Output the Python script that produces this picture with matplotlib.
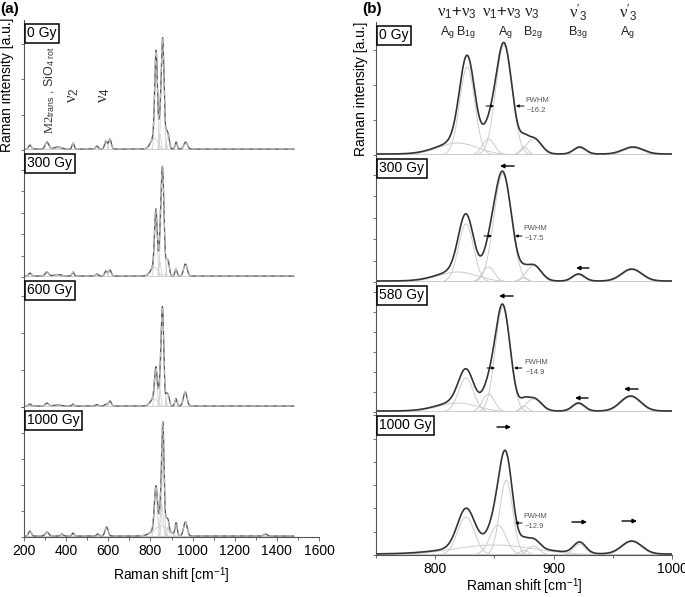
import numpy as np
import matplotlib
matplotlib.use('Agg')
import matplotlib.pyplot as plt
from matplotlib.ticker import MultipleLocator

plt.rcParams['font.family'] = 'Liberation Sans'
plt.rcParams['mathtext.fontset'] = 'custom'
plt.rcParams['mathtext.rm'] = 'Liberation Serif'
plt.rcParams['mathtext.it'] = 'Liberation Serif:italic'
plt.rcParams['mathtext.sf'] = 'Liberation Sans'

# fitted Raman bands: (centre [cm-1], FWHM [cm-1], height [a.u.])
bands_0gy = [(819, 40, 12), (827, 15, 88), (845, 12, 16), (858, 16.2, 110),
             (875, 8, 8), (883, 15, 16), (922, 12, 7), (967, 20, 7)]
bands_300gy = [(819, 40, 10), (826, 15, 58), (845, 12, 15), (857, 17.5, 108),
               (875, 8, 4), (883, 15, 16), (921, 12, 7), (966, 20, 12)]
bands_580gy = [(819, 40, 9), (826, 15, 34), (845, 12, 18), (857, 14.9, 105),
               (875, 8, 6), (883, 15, 13), (921, 12, 8), (965, 20, 15)]
bands_1000gy = [(826, 17, 38), (850, 80, 10), (853, 16, 30), (860, 12.9, 75),
                (875, 8, 5), (883, 12, 9), (922, 12, 11), (966, 20, 13)]

# low-wavenumber bands, panel (a)
low_0gy = [(228, 15, 4), (309, 20, 7), (360, 40, 2), (433, 12, 6),
           (546, 15, 3), (589, 15, 8), (608, 15, 10)]
low_300gy = [(228, 15, 3), (309, 20, 4), (360, 40, 1.5), (433, 12, 4),
             (546, 15, 2), (589, 15, 5), (608, 15, 6)]
low_600gy = [(228, 15, 2), (309, 20, 3), (360, 40, 1), (433, 12, 2),
             (546, 15, 1.5), (589, 15, 2), (608, 15, 5)]
low_1000gy = [(228, 15, 5), (309, 20, 4), (380, 15, 2), (433, 12, 3),
              (550, 15, 2), (592, 18, 9), (1345, 20, 2)]

doses_a = ['0 Gy', '300 Gy', '600 Gy', '1000 Gy']
doses_b = ['0 Gy', '300 Gy', '580 Gy', '1000 Gy']
scale_a = [1.0, 1.0, 0.93, 1.1]
baseline = 1.0

high_sets = [bands_0gy, bands_300gy, bands_580gy, bands_1000gy]
low_sets = [low_0gy, low_300gy, low_600gy, low_1000gy]


def gauss(x, c, w, h):
    return h * np.exp(-4 * np.log(2) * ((x - c) / w) ** 2)


W, HF = 685, 597
fig = plt.figure(figsize=(6.85, 5.97), dpi=100)


def make_ax(left, width, top, bottom):
    ax = fig.add_axes([left / W, 1 - bottom / HF, width / W, (bottom - top) / HF])
    ax.set_ylim(0, bottom - top)
    for s in ['top', 'right']:
        ax.spines[s].set_visible(False)
    ax.spines['left'].set_color('#555555')
    ax.spines['left'].set_linewidth(0.8)
    ax.tick_params(axis='y', length=2.5, width=0.6, color='#555555', labelleft=False)
    return ax


def box_label(ax, text):
    ax.annotate(text, xy=(0, 1), xycoords='axes fraction', xytext=(3, -6),
                textcoords='offset pixels', ha='left', va='top', fontsize=10,
                bbox=dict(boxstyle='square,pad=0.18', fc='white', ec='black', lw=1.1),
                zorder=10)


def finish_x(ax, last):
    if last:
        ax.spines['bottom'].set_color('#555555')
        ax.spines['bottom'].set_linewidth(0.8)
        ax.tick_params(axis='x', length=3, width=0.6, color='#555555', labelsize=10, pad=2)
        ax.set_xlabel('Raman shift [cm$^{\\mathsf{-1}}$]', fontsize=10)
    else:
        ax.spines['bottom'].set_visible(False)
        ax.tick_params(axis='x', bottom=False, labelbottom=False)


# ---------------- panel (a) ----------------
rows_a = [(20, 150), (150, 277), (277, 407), (407, 537)]
steps_a = [35.5, 21.5, 37, 26]
xa = np.linspace(200, 1480, 5000)
axes_a = []
for i, (top, bottom) in enumerate(rows_a):
    ax = make_ax(24, 295, top, bottom)
    ax.set_xlim(200, 1600)
    ax.yaxis.set_major_locator(MultipleLocator(steps_a[i]))
    comps = [(c, w, h * scale_a[i]) for c, w, h in high_sets[i]] + low_sets[i]
    total = np.full_like(xa, baseline)
    for c, w, h in comps:
        y = gauss(xa, c, w, h)
        total += y
        ax.plot(xa, y, color='#d0d0d0', lw=0.6)
    ax.plot(xa, total, color='#555555', lw=0.9)
    ax.plot(xa, total, color='#bbbbbb', lw=0.9, ls=(0, (4, 3)))
    ax.xaxis.set_major_locator(MultipleLocator(200))
    ax.xaxis.set_minor_locator(MultipleLocator(100))
    ax.tick_params(axis='x', which='minor', length=2, color='#555555')
    finish_x(ax, i == 3)
    box_label(ax, doses_a[i])
    axes_a.append(ax)

axes_a[0].set_ylabel('Raman intensity [a.u.]', fontsize=10)
axes_a[0].yaxis.set_label_coords(-0.034, 0.5)
axes_a[3].xaxis.set_label_coords(0.5, -0.22)

axes_a[0].text(323, 60, r'$\mathrm{M2}_{\mathsf{trans}}$ , SiO$_{\mathsf{4\ rot}}$',
               rotation=90, ha='center', va='center', fontsize=9, color='#333333')
axes_a[0].text(433, 55, r'$\mathrm{\nu}_{\mathsf{2}}$', rotation=90, ha='center', va='center',
               fontsize=12, color='#333333')
axes_a[0].text(584, 55, r'$\mathrm{\nu}_{\mathsf{4}}$', rotation=90, ha='center', va='center',
               fontsize=12, color='#333333')

# ---------------- panel (b) ----------------
rows_b = [(22, 155), (155, 282), (282, 412), (412, 555)]
steps_b = [35, 21.5, 20, 23.3]
xb = np.linspace(750, 1000, 1500)
axes_b = []
for i, (top, bottom) in enumerate(rows_b):
    ax = make_ax(376, 296, top, bottom)
    ax.set_xlim(750, 1000)
    ax.yaxis.set_major_locator(MultipleLocator(steps_b[i]))
    ax.axhline(0.3, color='#c8c8c8', lw=0.8)
    total = np.full_like(xb, baseline)
    for c, w, h in high_sets[i]:
        y = gauss(xb, c, w, h)
        total += y
        ax.plot(xb, y, color='#cccccc', lw=0.7)
    ax.plot(xb, total, color='#333333', lw=1.2)
    ax.xaxis.set_major_locator(MultipleLocator(100))
    ax.xaxis.set_minor_locator(MultipleLocator(50))
    ax.tick_params(axis='x', which='minor', length=2, color='#555555')
    finish_x(ax, i == 3)
    box_label(ax, doses_b[i])
    axes_b.append(ax)

axes_b[0].set_ylabel('Raman intensity [a.u.]', fontsize=10)
axes_b[0].yaxis.set_label_coords(-0.027, 0.5)
axes_b[3].xaxis.set_label_coords(0.5, -0.15)

# mode assignments above panel (b)
nu13 = r'$\mathrm{\nu}_{\mathsf{1}}$+$\mathrm{\nu}_{\mathsf{3}}$'
modes_top = [(818.4, nu13), (856.4, nu13), (881.8, r'$\mathrm{\nu}_{\mathsf{3}}$'),
             (920.6, r"$\mathrm{\nu}'_{\mathsf{3}}$"), (962.8, r"$\mathrm{\nu}'_{\mathsf{3}}$")]
modes_sym = [(810, r'A$_{\mathsf{g}}$'), (826, r'B$_{\mathsf{1g}}$'), (859, r'A$_{\mathsf{g}}$'),
             (882.6, r'B$_{\mathsf{2g}}$'), (920.6, r'B$_{\mathsf{3g}}$'), (962, r'A$_{\mathsf{g}}$')]
for x, t in modes_top:
    axes_b[0].text(x, 142, t, ha='center', va='center', fontsize=12, color='#222222')
for x, t in modes_sym:
    axes_b[0].text(x, 122, t, ha='center', va='center', fontsize=9, color='#222222')


def arrow(ax, tail, head, y, small=False):
    ax.annotate('', xy=(head, y), xytext=(tail, y),
                arrowprops=dict(arrowstyle='-|>', color='black',
                                lw=0.7 if small else 1.0,
                                mutation_scale=4 if small else 6,
                                shrinkA=0, shrinkB=0))


def fwhm(ax, x, y, value):
    ax.text(x, y + 5, 'FWHM', fontsize=5.5, color='#555555', ha='left', va='center')
    ax.text(x + 1.5, y - 5, '~' + value, fontsize=5.5, color='#555555', ha='left', va='center')


# 0 Gy
arrow(axes_b[0], 842.9, 849.7, 49, small=True)
arrow(axes_b[0], 875.0, 868.2, 49, small=True)
fwhm(axes_b[0], 875.8, 50, '16.2')
# 300 Gy
arrow(axes_b[1], 841.2, 848.0, 46, small=True)
arrow(axes_b[1], 873.3, 867.4, 46, small=True)
fwhm(axes_b[1], 874.2, 48, '17.5')
arrow(axes_b[1], 866.6, 854.7, 116)
arrow(axes_b[1], 929.9, 918.9, 14)
# 580 Gy
arrow(axes_b[2], 843.8, 850.5, 44, small=True)
arrow(axes_b[2], 873.3, 866.6, 44, small=True)
fwhm(axes_b[2], 875.0, 45, '14.9')
arrow(axes_b[2], 865.7, 853.9, 116)
arrow(axes_b[2], 929.1, 918.1, 14)
arrow(axes_b[2], 971.3, 959.5, 23)
# 1000 Gy
arrow(axes_b[3], 873.3, 867.4, 32, small=True)
fwhm(axes_b[3], 874.2, 33, '12.9')
arrow(axes_b[3], 852.2, 864.0, 128)
arrow(axes_b[3], 915.5, 928.2, 33)
arrow(axes_b[3], 957.8, 970.4, 34)

fig.text(0 / W, 1 - 2 / HF, '(a)', fontsize=11, fontweight='bold', va='top', ha='left')
fig.text(362 / W, 1 - 2 / HF, '(b)', fontsize=11, fontweight='bold', va='top', ha='left')

fig.savefig('out.png', dpi=100)
